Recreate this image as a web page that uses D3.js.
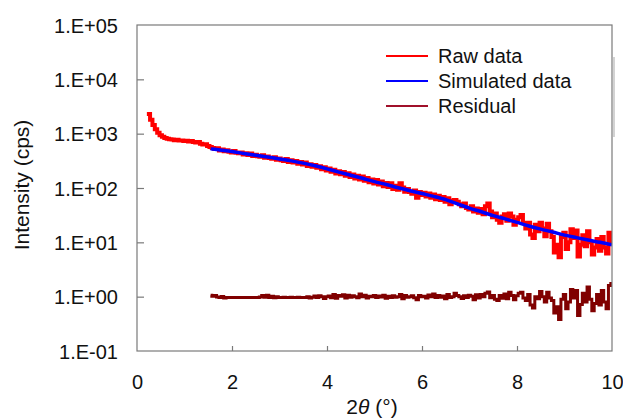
<!DOCTYPE html>
<html>
<head>
<meta charset="utf-8">
<script src="https://cdn.jsdelivr.net/npm/d3@7"></script>
<style>
  html, body { margin: 0; padding: 0; background: #fff; }
  svg { display: block; font-family: "Liberation Sans", Arial, sans-serif; }
</style>
</head>
<body>
<svg id="chart" width="623" height="419"></svg>
<script>
// ---------------- data ----------------
const xTicks = [0, 2, 4, 6, 8, 10];
const yTicks = [1e-1, 1e0, 1e1, 1e2, 1e3, 1e4, 1e5];
const yTickLabels = ["1.E-01", "1.E+00", "1.E+01", "1.E+02", "1.E+03", "1.E+04", "1.E+05"];
const seriesNames = ["Raw data", "Simulated data", "Residual"];
const seriesColors = ["#ff0000", "#0000ff", "#800000"];

// Raw data: 2θ from 0.25 to 10 in steps of 0.05
const rawStart = 0.25, rawStep = 0.05;
const rawValues = [
  2300, 1800, 1450, 1200, 1040, 940, 880, 830, 810, 790,
  780, 760, 770, 745, 750, 735, 740, 720, 730, 700,
  690, 700, 650, 630, 640, 590,
  570, 545, 520, 540, 490, 510, 475, 495, 465, 450,
  480, 445, 435, 450, 415, 435, 405, 430, 390, 410,
  385, 375, 400, 360, 380, 355, 345, 370, 330, 350,
  325, 315, 340, 300, 325, 295, 315, 280, 300, 270,
  295, 255, 275, 245, 266, 235, 252, 222, 240, 210,
  228, 200, 216, 185, 204, 180, 196, 168, 186, 160,
  178, 150, 168, 143, 163, 136, 152, 128, 144, 121,
  140, 116, 132, 108, 124, 104, 122, 96, 110, 93,
  122, 102, 85, 96, 84, 78, 90, 66, 84, 74,
  82, 70, 79, 66, 76, 62, 72, 60, 68, 56,
  65, 50, 59, 60, 56, 50, 46, 52, 43, 40,
  46, 37, 42, 35, 41, 33, 46, 52, 37, 29,
  34, 26, 23, 30, 33, 25, 34, 30, 21, 26,
  29, 32, 23, 18, 23, 14, 12, 21, 16, 23,
  18, 13, 22, 16, 12.5, 6.5, 9, 5.3, 12.5, 15,
  7.5, 10, 17.5, 12, 16.5, 5.5, 9, 13.5, 8.5, 16,
  10, 6, 8, 11.5, 7, 12.5, 8, 6.2, 15, 10
];

// Simulated data
const simX = [1.55, 1.75, 2, 2.25, 2.5, 2.75, 3, 3.25, 3.5, 3.75, 4, 4.25, 4.5, 4.75, 5,
  5.25, 5.5, 5.75, 6, 6.25, 6.5, 6.75, 7, 7.25, 7.5, 7.75, 8, 8.25, 8.5, 8.75, 9,
  9.25, 9.5, 9.75, 10];
const simValues = [525, 500, 470, 432, 400, 372, 343, 316, 287, 256, 225, 196, 172, 151, 131,
  116, 101, 89, 79, 70, 61, 51, 42.5, 36.5, 31, 27, 23.3, 20, 17.5, 15.5, 13.6,
  12.2, 11, 10, 9.0];

// Residual: 2θ from 1.55 to 10 in steps of 0.05
const resStart = 1.55, resStep = 0.05;
const resValues = [
  1.06, 1.02, 1.05, 0.99, 0.97, 1.01, 0.95, 0.97, 0.97, 0.97,
  0.97, 0.97, 0.97, 0.97, 0.97, 0.97, 0.97, 0.97, 0.97, 0.97,
  0.97, 0.99, 1.05, 0.98, 1.06, 0.97, 1.02, 0.96, 1.0, 0.97,
  0.97, 0.98, 0.97, 0.97, 0.98, 0.97, 0.97, 0.98, 0.97, 0.97,
  0.97, 1.0, 0.95, 0.98, 1.03, 0.97, 1.04, 1.0, 0.93, 1.0,
  1.03, 0.96, 1.1, 0.94, 1.05, 1.02, 1.08, 0.95, 1.06, 0.98,
  1.04, 1.0, 0.96, 1.12, 1.0, 1.06, 0.95, 1.02, 1.0, 1.05,
  0.97, 1.03, 0.99, 1.06, 0.94, 1.02, 0.97, 1.04, 0.98, 1.0,
  1.1, 0.92, 1.05, 0.98, 1.0, 1.04, 0.96, 0.88, 1.05, 1.0,
  1.02, 0.95, 1.07, 1.0, 1.12, 0.97, 1.05, 0.98, 1.03, 0.92,
  1.1, 0.97, 1.0, 1.15, 1.05, 1.0, 0.93, 1.04, 0.97, 1.06,
  1.02, 0.88, 1.08, 0.95, 1.1, 1.0, 1.15, 1.22, 0.96, 1.05,
  0.9, 0.85, 1.05, 0.94, 1.12, 0.92, 1.2, 1.05, 0.88, 1.04,
  1.15, 1.2, 0.95, 0.85, 1.1, 0.7, 0.62, 1.0, 0.92, 1.25,
  1.0, 0.8, 1.2, 0.95, 0.85, 0.5, 0.65, 0.38, 0.9, 1.1,
  0.6, 0.8, 1.35, 0.95, 1.3, 0.45, 0.72, 1.15, 0.8, 1.5,
  0.9, 0.55, 0.75, 1.1, 0.7, 1.3, 0.8, 0.6, 1.6, 1.75
];

// ---------------- layout ----------------
const svg = d3.select("#chart");
const L = 137, R = 612, T = 25, B = 351;
const x = d3.scaleLinear().domain([0, 10]).range([L, R]);
const y = d3.scaleLog().domain([1e-1, 1e5]).range([B, T]);

const axisColor = "#7a7a7a";
const fontFam = '"Liberation Sans", Arial, sans-serif';

const rawData = rawValues.map((v, i) => [rawStart + i * rawStep, v]);
const simData = simValues.map((v, i) => [simX[i], v]);
const resData = resValues.map((v, i) => [resStart + i * resStep, v]);

const stepLine = d3.line().x(d => x(d[0])).y(d => y(d[1])).curve(d3.curveStep);
const smoothLine = d3.line().x(d => x(d[0])).y(d => y(d[1])).curve(d3.curveMonotoneX);

// clip
svg.append("defs").append("clipPath").attr("id", "clip")
  .append("rect").attr("x", L).attr("y", T).attr("width", R - L).attr("height", B - T);

const g = svg.append("g").attr("clip-path", "url(#clip)");
g.append("path").datum(rawData).attr("d", stepLine)
  .attr("fill", "none").attr("stroke", seriesColors[0]).attr("stroke-width", 4)
  .attr("stroke-linejoin", "miter").attr("stroke-linecap", "square");
g.append("path").datum(simData).attr("d", smoothLine)
  .attr("fill", "none").attr("stroke", seriesColors[1]).attr("stroke-width", 3.5);
g.append("path").datum(resData).attr("d", stepLine)
  .attr("fill", "none").attr("stroke", seriesColors[2]).attr("stroke-width", 3);

// frame
svg.append("rect").attr("x", L).attr("y", T).attr("width", R - L).attr("height", B - T)
  .attr("fill", "none").attr("stroke", axisColor).attr("stroke-width", 1.2);
// faint gray mark at right edge
svg.append("line").attr("x1", R + 2).attr("x2", R + 2).attr("y1", 57).attr("y2", 137)
  .attr("stroke", "#c4c4c4").attr("stroke-width", 1.5);

// y axis
const yAxis = d3.axisLeft(y).tickValues(yTicks)
  .tickFormat((d, i) => yTickLabels[i]).tickSize(-7).tickPadding(19);
const ya = svg.append("g").attr("transform", `translate(${L},0)`).call(yAxis);
ya.select(".domain").remove();
ya.selectAll(".tick line").attr("stroke", axisColor).attr("stroke-width", 1.2)
  .filter(d => d === 1e-1 || d === 1e5).remove();
ya.selectAll(".tick text").attr("font-size", 20).attr("font-family", fontFam)
  .attr("fill", "#111").attr("dy", "0.35em");

// x axis
const xAxis = d3.axisBottom(x).tickValues(xTicks).tickFormat(d3.format("d"))
  .tickSize(-5).tickPadding(24);
const xa = svg.append("g").attr("transform", `translate(0,${B})`).call(xAxis);
xa.select(".domain").remove();
xa.selectAll(".tick line").attr("stroke", axisColor).attr("stroke-width", 1.2)
  .filter(d => d === 0 || d === 10).remove();
xa.selectAll(".tick text").attr("font-size", 20).attr("font-family", fontFam)
  .attr("fill", "#111").attr("dy", "0.71em");

// axis titles
svg.append("text").attr("transform", "translate(29,185) rotate(-90)")
  .attr("text-anchor", "middle").attr("font-size", 21).attr("font-family", fontFam)
  .attr("fill", "#111").text("Intensity (cps)");
const xt = svg.append("text").attr("x", 372).attr("y", 414).attr("text-anchor", "middle")
  .attr("font-size", 21).attr("font-family", fontFam).attr("fill", "#111");
xt.append("tspan").text("2");
xt.append("tspan").attr("font-style", "italic").text("θ");
xt.append("tspan").text(" (°)");

// legend
const legendY = [56, 81, 106];
const legendLineColors = ["#ff0000", "#0000ff", "#a0102a"];
const lg = svg.append("g");
seriesNames.forEach((name, i) => {
  lg.append("line").attr("x1", 386).attr("x2", 428).attr("y1", legendY[i]).attr("y2", legendY[i])
    .attr("stroke", legendLineColors[i]).attr("stroke-width", 2);
  lg.append("text").attr("x", 438).attr("y", legendY[i]).attr("dy", "0.35em")
    .attr("font-size", 20).attr("font-family", fontFam).attr("fill", "#111").text(name);
});
</script>
</body>
</html>
